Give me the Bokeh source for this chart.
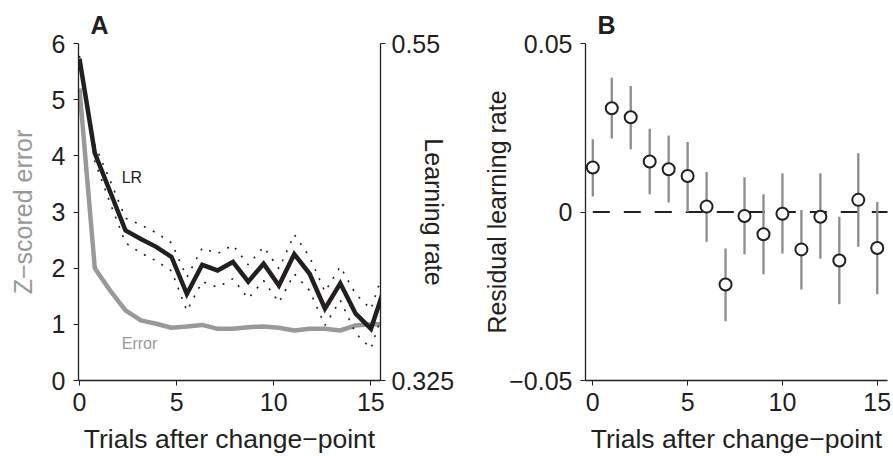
from bokeh.plotting import figure
from bokeh.models import Range1d, LinearAxis, Label, FixedTicker, Title
from bokeh.layouts import row
from bokeh.embed import file_html
from bokeh.resources import INLINE

# ---------------- Panel A data ----------------
trial_pos = [0.0, 0.79, 1.58, 2.37, 3.16, 3.95, 4.74, 5.53, 6.32, 7.11, 7.90,
             8.69, 9.48, 10.27, 11.06, 11.85, 12.64, 13.43, 14.22, 15.01, 15.80]
lr_mean = [5.73, 4.05, 3.36, 2.67, 2.52, 2.38, 2.20, 1.54, 2.06, 1.96, 2.11,
           1.76, 2.08, 1.69, 2.25, 1.90, 1.28, 1.73, 1.19, 0.92, 1.75]
lr_upper = [5.78, 4.20, 3.56, 2.89, 2.77, 2.63, 2.45, 1.84, 2.36, 2.26, 2.41,
            2.06, 2.38, 1.99, 2.60, 2.20, 1.58, 2.03, 1.54, 1.27, 2.10]
lr_lower = [5.68, 3.90, 3.16, 2.45, 2.27, 2.13, 1.95, 1.24, 1.76, 1.66, 1.81,
            1.46, 1.78, 1.39, 1.90, 1.60, 0.98, 1.43, 0.84, 0.57, 1.40]
error_mean = [5.20, 2.00, 1.60, 1.25, 1.07, 1.01, 0.94, 0.96, 0.99, 0.92, 0.92,
              0.95, 0.96, 0.94, 0.89, 0.92, 0.92, 0.89, 0.98, 1.00, 1.00]
a_left_ticks = [0, 1, 2, 3, 4, 5, 6]
a_right_ticks = [0.325, 0.55]
x_ticks = [0, 5, 10, 15]

# ---------------- Panel B data ----------------
b_trials = list(range(16))
b_resid = [0.0132, 0.0308, 0.0281, 0.0150, 0.0127, 0.0107, 0.0016, -0.0215,
           -0.0012, -0.0066, -0.0005, -0.0111, -0.0014, -0.0144, 0.0036, -0.0107]
b_upper = [0.0216, 0.0398, 0.0374, 0.0247, 0.0227, 0.0208, 0.0119, -0.0108,
           0.0103, 0.0053, 0.0115, 0.0006, 0.0115, -0.0014, 0.0174, 0.0030]
b_lower = [0.0046, 0.0218, 0.0186, 0.0053, 0.0028, 0.0000, -0.0088, -0.0324,
           -0.0125, -0.0185, -0.0123, -0.0230, -0.0139, -0.0274, -0.0103, -0.0244]
b_yticks = [-0.05, 0, 0.05]
b_ytick_labels = {-0.05: "\u22120.05", 0: "0", 0.05: "0.05"}
ref_x = [0, 16]
ref_y = [0, 0]

FONT = "Liberation Sans"
TXT = "#231f20"
GRAY = "#999999"
BAR_GRAY = "#8c8c8c"


def style_axis(ax, size="25px"):
    ax.axis_line_color = TXT
    ax.axis_line_width = 1.3
    ax.major_tick_line_color = TXT
    ax.major_tick_out = 5
    ax.major_tick_in = 0
    ax.minor_tick_line_color = None
    ax.major_label_text_font = FONT
    ax.major_label_text_font_size = size
    ax.major_label_text_color = TXT
    ax.axis_label_text_font = FONT
    ax.axis_label_text_font_size = "25px"
    ax.axis_label_text_font_style = "normal"
    ax.axis_label_text_color = TXT


def panel_title(text):
    t = Title(text=text, align="left", offset=12, standoff=10,
              text_font=FONT, text_font_size="25px", text_font_style="bold",
              text_color=TXT)
    return t


# ---------------- Panel A ----------------
pa = figure(width=478, height=456, output_backend="svg", toolbar_location=None,
            x_range=Range1d(-0.05, 15.5), y_range=Range1d(0, 6),
            min_border_left=78, min_border_right=98, min_border_top=43,
            min_border_bottom=75)
pa.xgrid.visible = False
pa.ygrid.visible = False
pa.outline_line_color = None
pa.add_layout(panel_title("A"), "above")

pa.line(trial_pos, error_mean, line_color=GRAY, line_width=4.5)
pa.line(trial_pos, lr_upper, line_color=TXT, line_width=1.6, line_dash="2 8")
pa.line(trial_pos, lr_lower, line_color=TXT, line_width=1.6, line_dash="2 8")
pa.line(trial_pos, lr_mean, line_color=TXT, line_width=4.5, line_join="miter")

pa.extra_y_ranges = {"lr": Range1d(0.325, 0.55)}
right_ax = LinearAxis(y_range_name="lr")
pa.add_layout(right_ax, "right")

for ax in [pa.xaxis[0], pa.yaxis[0], right_ax]:
    style_axis(ax)
pa.xaxis[0].ticker = FixedTicker(ticks=x_ticks)
pa.xaxis[0].axis_label = "Trials after change\u2212point"
pa.xaxis[0].axis_label_text_font_size = "26.5px"
pa.xaxis[0].major_label_standoff = 7
pa.xaxis[0].axis_label_standoff = 10
pa.yaxis[0].ticker = FixedTicker(ticks=a_left_ticks)
pa.yaxis[0].axis_label = "Z\u2212scored error"
pa.yaxis[0].axis_label_text_color = GRAY
pa.yaxis[0].major_label_standoff = 8
pa.yaxis[0].axis_label_standoff = 12
right_ax.ticker = FixedTicker(ticks=a_right_ticks)
right_ax.major_label_overrides = {0.325: "0.325", 0.55: "0.55"}
right_ax.major_label_standoff = 6
right_ax.axis_label = "Learning rate"
right_ax.axis_label_standoff = -37

pa.add_layout(Label(x=2.7, y=3.62, text="LR", text_align="center",
                    text_baseline="middle", text_font=FONT,
                    text_font_size="16px", text_color=TXT))
pa.add_layout(Label(x=3.09, y=0.66, text="Error", text_align="center",
                    text_baseline="middle", text_font=FONT,
                    text_font_size="16px", text_color=GRAY))

# ---------------- Panel B ----------------
pb = figure(width=415, height=456, output_backend="svg", toolbar_location=None,
            x_range=Range1d(-0.385, 15.54), y_range=Range1d(-0.05, 0.05),
            min_border_left=107, min_border_right=6, min_border_top=43,
            min_border_bottom=76)
pb.xgrid.visible = False
pb.ygrid.visible = False
pb.outline_line_color = None
pb.add_layout(panel_title("B"), "above")

pb.line(ref_x, ref_y, line_color=TXT, line_width=2, line_dash="17 14")
pb.segment(x0=b_trials, y0=b_lower, x1=b_trials, y1=b_upper,
           line_color=BAR_GRAY, line_width=2.3)
pb.scatter(b_trials, b_resid, size=12, marker="circle", fill_color="white",
           line_color=TXT, line_width=2)

for ax in [pb.xaxis[0], pb.yaxis[0]]:
    style_axis(ax)
pb.xaxis[0].ticker = FixedTicker(ticks=x_ticks)
pb.xaxis[0].axis_label = "Trials after change\u2212point"
pb.xaxis[0].axis_label_text_font_size = "26.5px"
pb.xaxis[0].major_label_standoff = 7
pb.xaxis[0].axis_label_standoff = 10
pb.yaxis[0].ticker = FixedTicker(ticks=b_yticks)
pb.yaxis[0].major_label_overrides = b_ytick_labels
pb.yaxis[0].axis_label = "Residual learning rate"
pb.yaxis[0].major_label_standoff = 8
pb.yaxis[0].axis_label_standoff = -5

layout = row(pa, pb)
open("out.html", "w").write(file_html(layout, INLINE))
